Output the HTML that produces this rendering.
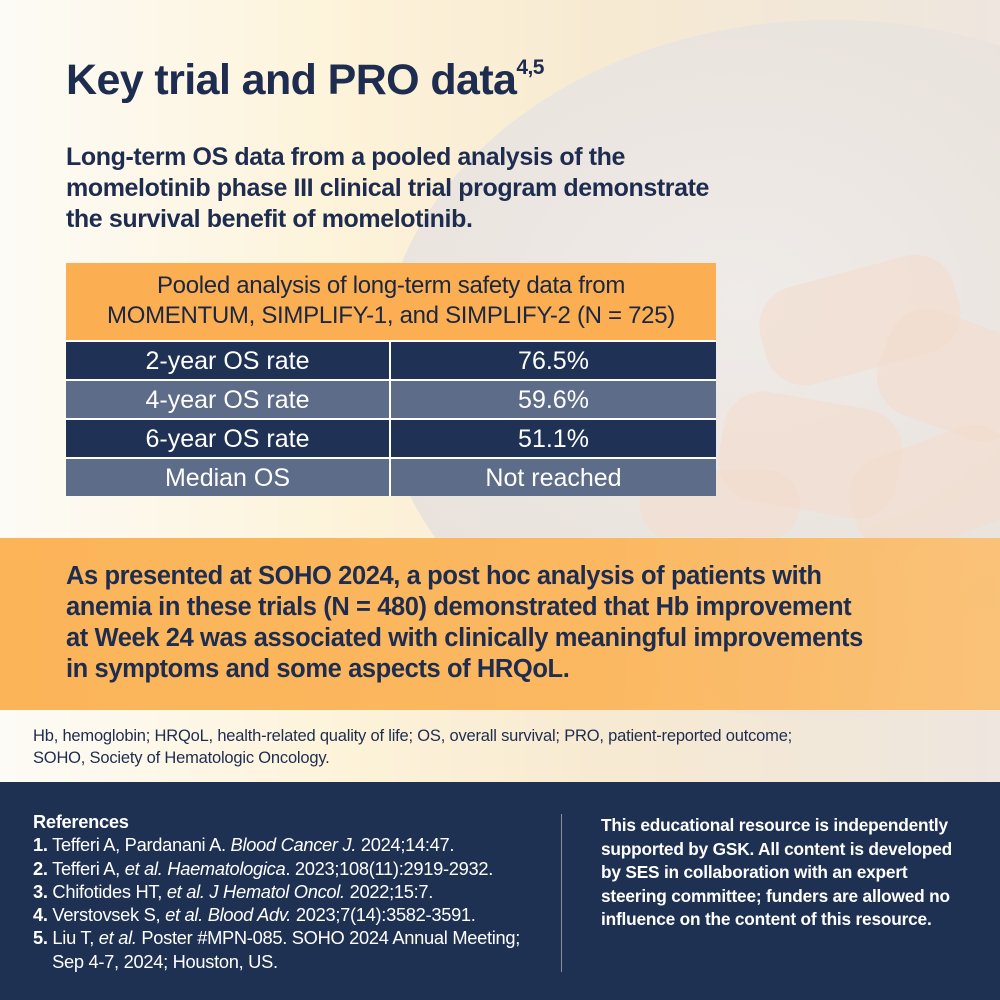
<!DOCTYPE html>
<html><head><meta charset="utf-8"><style>
*{margin:0;padding:0;box-sizing:border-box}
body{width:1000px;height:1000px;position:relative;overflow:hidden;font-family:"Liberation Sans",sans-serif;color:#1e2d4f;
background:linear-gradient(90deg,#fdfbf6 0%,#fdf3d9 35%,#f7ead2 60%,#eee6df 100%)}
.bg1{position:absolute;left:380px;top:20px;width:900px;height:700px;border-radius:50%;background:radial-gradient(ellipse at 40% 40%,#efebe8 0%,#e9e2dc 60%,rgba(240,225,210,0) 75%)}
.pill{position:absolute;background:#f3dccd;border-radius:40px;opacity:.6}
h1{position:absolute;left:66px;top:56px;font-size:43px;font-weight:bold;letter-spacing:-.6px;white-space:nowrap}
h1 sup{font-size:21px;vertical-align:20px}
.sub{position:absolute;left:66px;top:142px;font-size:25px;font-weight:bold;line-height:31px;letter-spacing:-.4px;white-space:nowrap}
.tbl{position:absolute;left:66px;top:263px;width:650px}
.th{background:#fbae52;height:77px;text-align:center;font-size:24px;line-height:30px;padding-top:8px;letter-spacing:-.3px;color:#1a2742}
.row{display:flex;height:39px;font-size:25px;color:#fff;line-height:39px;text-align:center;border-top:2px solid #fff}
.row div{flex:0 0 325px}
.row div:first-child{border-right:2px solid #fff}
.d{background:#1f3255}.l{background:#5d6c88}
.band{position:absolute;left:0;top:538px;width:1000px;height:172px;background:linear-gradient(90deg,#fbb458,#fbb861 60%,rgba(251,190,110,.9))}
.band p{position:absolute;left:66px;top:23px;font-size:25.5px;font-weight:bold;line-height:31px;letter-spacing:-.4px;white-space:nowrap}
.fn{position:absolute;left:33px;top:725px;font-size:16.5px;line-height:22px;white-space:nowrap;letter-spacing:-.2px}
.foot{position:absolute;left:0;top:782px;width:1000px;height:218px;background:#1e3152;color:#fff}
.refs{position:absolute;left:33px;top:28px;font-size:18.3px;line-height:23.3px;white-space:nowrap;letter-spacing:-.3px}
.vl{position:absolute;left:561px;top:32px;width:1px;height:158px;background:#8a8f99}
.disc{position:absolute;left:601px;top:32px;font-size:17.3px;font-weight:bold;line-height:23.5px;white-space:nowrap;letter-spacing:-.2px}
</style></head><body>
<div class="bg1"></div>
<div class="pill" style="left:760px;top:270px;width:200px;height:100px;transform:rotate(-15deg)"></div>
<div class="pill" style="left:880px;top:320px;width:150px;height:110px;transform:rotate(20deg)"></div>
<div class="pill" style="left:720px;top:400px;width:180px;height:110px;transform:rotate(10deg)"></div>
<div class="pill" style="left:850px;top:440px;width:170px;height:100px;transform:rotate(-20deg)"></div>
<div class="pill" style="left:640px;top:470px;width:160px;height:70px"></div>
<h1>Key trial and PRO data<sup>4,5</sup></h1>
<div class="sub">Long-term OS data from a pooled analysis of the<br>momelotinib phase III clinical trial program demonstrate<br>the survival benefit of momelotinib.</div>
<div class="tbl">
<div class="th">Pooled analysis of long-term safety data from<br>MOMENTUM, SIMPLIFY-1, and SIMPLIFY-2 (N = 725)</div>
<div class="row d"><div>2-year OS rate</div><div>76.5%</div></div>
<div class="row l"><div>4-year OS rate</div><div>59.6%</div></div>
<div class="row d"><div>6-year OS rate</div><div>51.1%</div></div>
<div class="row l"><div>Median OS</div><div>Not reached</div></div>
</div>
<div class="band"><p>As presented at SOHO 2024, a post hoc analysis of patients with<br>anemia in these trials (N = 480) demonstrated that Hb improvement<br>at Week 24 was associated with clinically meaningful improvements<br>in symptoms and some aspects of HRQoL.</p></div>
<div class="fn">Hb, hemoglobin; HRQoL, health-related quality of life; OS, overall survival; PRO, patient-reported outcome;<br>SOHO, Society of Hematologic Oncology.</div>
<div class="foot">
<div class="refs"><b>References</b><br>
<b>1.</b> Tefferi A, Pardanani A. <i>Blood Cancer J.</i> 2024;14:47.<br>
<b>2.</b> Tefferi A, <i>et al. Haematologica</i>. 2023;108(11):2919-2932.<br>
<b>3.</b> Chifotides HT, <i>et al. J Hematol Oncol.</i> 2022;15:7.<br>
<b>4.</b> Verstovsek S, <i>et al. Blood Adv.</i> 2023;7(14):3582-3591.<br>
<b>5.</b> Liu T, <i>et al.</i> Poster #MPN-085. SOHO 2024 Annual Meeting;<br>
&nbsp;&nbsp;&nbsp;&nbsp;Sep 4-7, 2024; Houston, US.</div>
<div class="vl"></div>
<div class="disc">This educational resource is independently<br>supported by GSK. All content is developed<br>by SES in collaboration with an expert<br>steering committee; funders are allowed no<br>influence on the content of this resource.</div>
</div>
</body></html>
